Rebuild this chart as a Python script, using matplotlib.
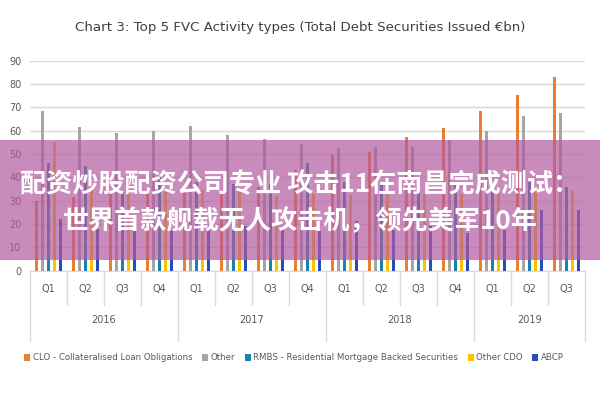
import matplotlib
matplotlib.use("Agg")
import matplotlib.pyplot as plt
import matplotlib.transforms as mtransforms
from matplotlib.patches import Rectangle
import numpy as np

# ── Data (€bn)
quarters = ["Q1", "Q2", "Q3", "Q4", "Q1", "Q2", "Q3", "Q4",
            "Q1", "Q2", "Q3", "Q4", "Q1", "Q2", "Q3"]
years = ["2016", "2017", "2018", "2019"]
year_sizes = [4, 4, 4, 3]

clo = [30, 31.5, 33, 33.5, 35, 34.5, 36, 43, 49.5, 51, 57.5, 61, 68.5, 75.5, 83]
other = [68.5, 61.5, 59, 60, 62, 58, 56.5, 54.5, 52.5, 53, 53, 56, 60, 66.5, 67.5]
rmbs = [46, 45, 34, 41, 38, 37, 37, 46, 38, 37, 36, 38, 35, 38, 36]
other_cdo = [55, 37, 35, 35, 34.5, 34, 32, 33, 32.5, 32.5, 33, 33, 34.5, 35, 34]
abcp = [22, 18, 17, 17, 19, 19, 19, 17, 21.5, 17.5, 19, 16, 17.5, 26, 26]

series = [
    ("CLO - Collateralised Loan Obligations", clo, "#ED7D31"),
    ("Other", other, "#A5A5A5"),
    ("RMBS - Residential Mortgage Backed Securities", rmbs, "#1F7FA6"),
    ("Other CDO", other_cdo, "#FFC000"),
    ("ABCP", abcp, "#2B4BB5"),
]

banner_lines = ["配资炒股配资公司专业 攻击11在南昌完成测试：",
                "世界首款舰载无人攻击机，领先美军10年"]

txt_color = "#595959"
grid_color = "#D9D9D9"

fig = plt.figure(figsize=(6, 4), dpi=100)
ax = fig.add_axes([0.05, 0.323, 0.925, 0.525])

x = np.arange(len(quarters))
step, width = 0.158, 0.09
for i, (name, vals, color) in enumerate(series):
    ax.bar(x + (i - 2) * step, vals, width=width, color=color, label=name, zorder=3)

ax.set_xlim(-0.5, len(quarters) - 0.5)
ax.set_ylim(0, 90)
ax.set_yticks(range(0, 100, 10))
ax.tick_params(axis="y", length=0, labelsize=7, labelcolor=txt_color, pad=6)
ax.set_xticks([])
ax.grid(axis="y", color=grid_color, linewidth=1, zorder=0)
for s in ["left", "right", "top"]:
    ax.spines[s].set_visible(False)
ax.spines["bottom"].set_color(grid_color)

# multi-level category axis
trans = mtransforms.blended_transform_factory(ax.transData, ax.transAxes)
for i, q in enumerate(quarters):
    ax.text(i, -0.087, q, transform=trans, ha="center", va="center",
            fontsize=7, color=txt_color)
year_bounds = np.concatenate([[0], np.cumsum(year_sizes)])
for k in range(len(quarters) + 1):
    depth = -0.335 if k in year_bounds else -0.163
    ax.plot([k - 0.5, k - 0.5], [0, depth], transform=trans, color=grid_color,
            linewidth=1, clip_on=False)
for yname, a, b in zip(years, year_bounds[:-1], year_bounds[1:]):
    ax.text((a + b - 1) / 2, -0.236, yname, transform=trans, ha="center",
            va="center", fontsize=7, color=txt_color)

fig.text(0.5, 0.93, "Chart 3: Top 5 FVC Activity types (Total Debt Securities Issued €bn)",
         ha="center", va="center", fontsize=9.6, color="#404040")

fig.legend(loc="center", bbox_to_anchor=(0.49, 0.105), ncol=5, frameon=False,
           fontsize=6.2, handlelength=0.7, handleheight=0.7, handletextpad=0.3,
           columnspacing=1.1, labelcolor=txt_color)

# pink overlay banner with headline text
fig.add_artist(Rectangle((0, 0.35), 1, 0.30, transform=fig.transFigure,
                         facecolor="#b35a9e", alpha=0.7, edgecolor="none", zorder=5))
for yy, line in zip([0.538, 0.445], banner_lines):
    fig.text(0.5, yy, line, ha="center", va="center", fontsize=18.8,
             fontweight="bold", color="white", zorder=6,
             family=["Noto Sans CJK SC", "DejaVu Sans"])

fig.savefig("out.png", dpi=100)
